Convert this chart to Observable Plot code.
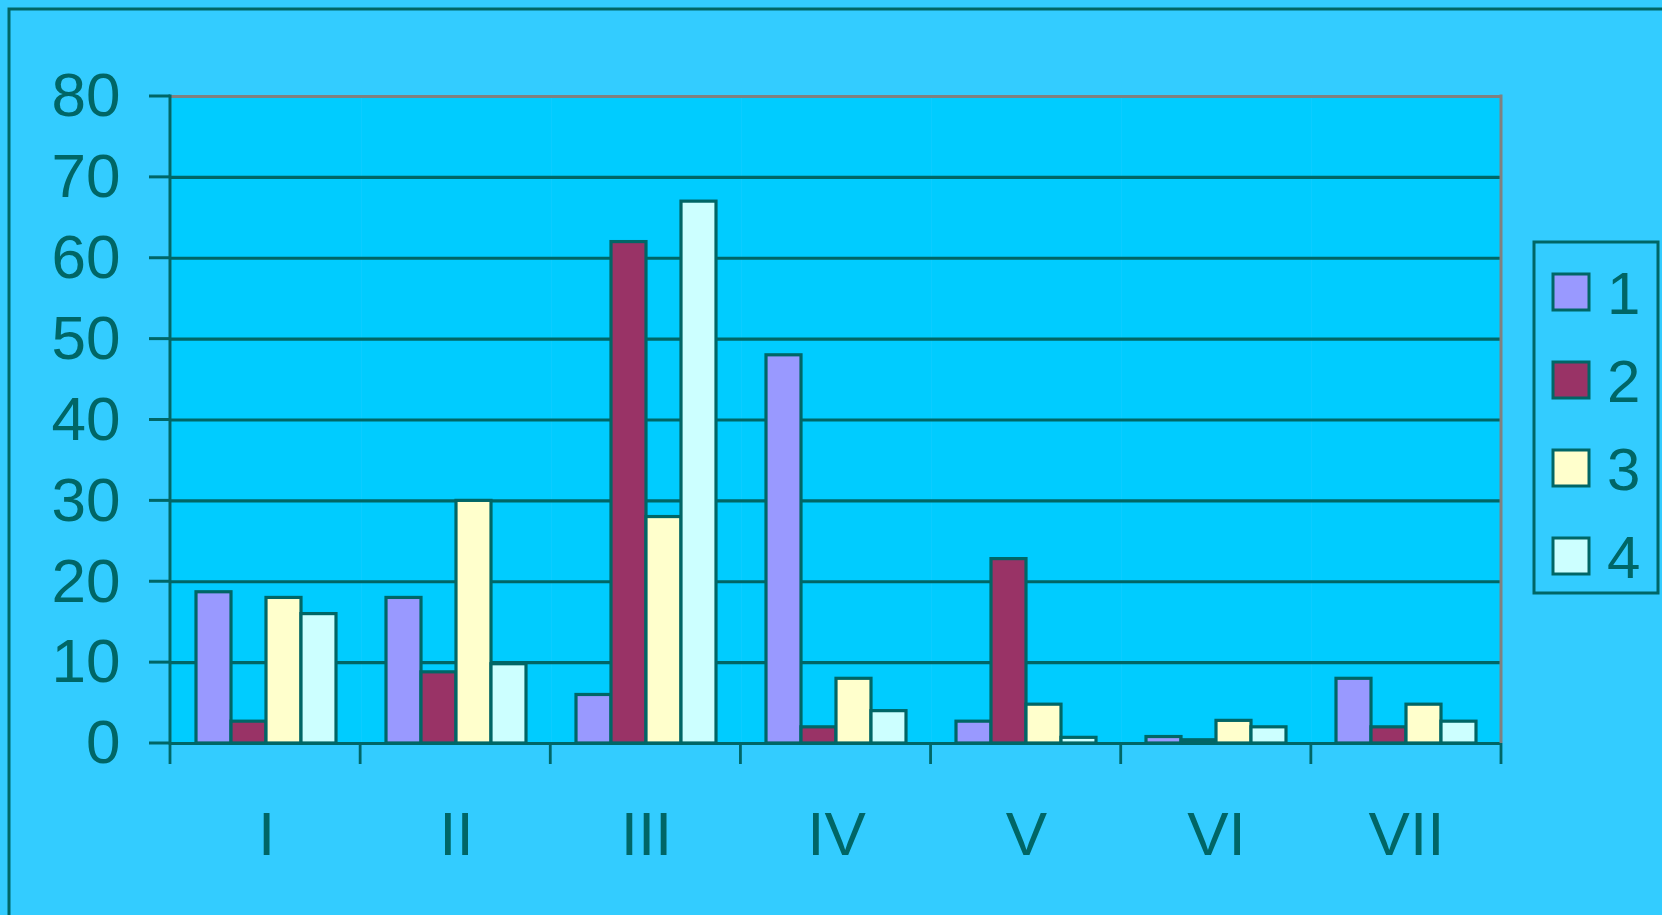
<!DOCTYPE html>
<html>
<head>
<meta charset="utf-8">
<script src="https://cdn.jsdelivr.net/npm/d3@7"></script>
<script src="https://cdn.jsdelivr.net/npm/@observablehq/plot@0.6"></script>
<style>
  html, body { margin: 0; padding: 0; background: #33CCFF; overflow: hidden; }
  #chart { width: 1662px; height: 915px; }
</style>
</head>
<body>
<div id="chart"></div>
<script>
// Categories along the horizontal axis and the four series
const groups = ["I", "II", "III", "IV", "V", "VI", "VII"];
const seriesNames = ["1", "2", "3", "4"];
const series1 = [18.7, 18, 6, 48, 2.7, 0.8, 8];
const series2 = [2.7, 8.8, 62, 2, 22.8, 0.4, 2];
const series3 = [18, 30, 28, 8, 4.8, 2.8, 4.8];
const series4 = [16, 9.8, 67, 4, 0.7, 2, 2.7];
const yTicks = [0, 10, 20, 30, 40, 50, 60, 70, 80];
const seriesColors = ["#9999FF", "#993366", "#FFFFCC", "#CCFFFF"];

const allSeries = [series1, series2, series3, series4];
const data = groups.flatMap((g, i) =>
  seriesNames.map((s, j) => ({group: g, series: s, value: allSeries[j][i]}))
);

const W = 1662, H = 915;
const mL = 170, mR = 161, mT = 96, mB = 172;
const ink = "#006666";
const font = "'Liberation Sans', Arial, sans-serif";

const plot = Plot.plot({
  width: W,
  height: H,
  marginLeft: mL,
  marginRight: mR,
  marginTop: mT,
  marginBottom: mB,
  style: {background: "transparent", color: ink, fontFamily: font, fontSize: "62px", overflow: "visible"},
  fx: {domain: groups, padding: 0, label: null},
  x: {domain: seriesNames, paddingInner: 0, paddingOuter: 0.714, axis: null},
  y: {domain: [0, 80], label: null},
  color: {domain: seriesNames, range: seriesColors},
  marks: [
    Plot.frame({fill: "#00CCFF", stroke: null}),
    Plot.ruleY(yTicks.filter(d => d < 80), {stroke: ink, strokeWidth: 3.2}),
    Plot.ruleY([80], {stroke: "#808080", strokeWidth: 3}),
    Plot.barY(data, {fx: "group", x: "series", y: "value", fill: "series", stroke: ink, strokeWidth: 3.2}),
    Plot.axisY({anchor: "left", ticks: yTicks, tickSize: 21, tickPadding: 30, stroke: "none", fill: ink, fontSize: 62, label: null}),
    Plot.axisFx({anchor: "bottom", tickSize: 0, tickPadding: 67, fill: ink, fontSize: 62, label: null})
  ]
});

document.getElementById("chart").appendChild(plot);

// Frame lines, tick marks and the legend
const svg = d3.select(plot);
const xLeft = mL, xRight = W - mR, yTop = mT, yBase = H - mB;

svg.append("rect")
  .attr("x", 9).attr("y", 9).attr("width", W + 20).attr("height", H + 20)
  .attr("fill", "none").attr("stroke", ink).attr("stroke-width", 3);

svg.append("line")
  .attr("x1", xRight).attr("x2", xRight).attr("y1", yTop - 1.5).attr("y2", yBase)
  .attr("stroke", "#808080").attr("stroke-width", 3);

svg.append("line")
  .attr("x1", xLeft).attr("x2", xLeft).attr("y1", yTop - 1.5).attr("y2", yBase + 1.5)
  .attr("stroke", ink).attr("stroke-width", 3);

// y ticks on the left of the value axis
const yInfo = plot.scale("y");
const yPos = d3.scaleLinear().domain(yInfo.domain).range(yInfo.range);
svg.append("g")
  .selectAll("line")
  .data(yTicks)
  .join("line")
  .attr("x1", xLeft - 21).attr("x2", xLeft)
  .attr("y1", d => yPos(d)).attr("y2", d => yPos(d))
  .attr("stroke", ink)
  .attr("stroke-width", 3);

// separators between categories below the baseline
const fxScale = plot.scale("fx");
const fxRange = fxScale.range;
const step = (fxRange[1] - fxRange[0]) / fxScale.domain.length;
svg.append("g")
  .selectAll("line")
  .data(d3.range(fxScale.domain.length + 1))
  .join("line")
  .attr("x1", i => fxRange[0] + i * step)
  .attr("x2", i => fxRange[0] + i * step)
  .attr("y1", yBase)
  .attr("y2", yBase + 21)
  .attr("stroke", ink)
  .attr("stroke-width", 2.8);

const colorScale = plot.scale("color");
const legend = svg.append("g").attr("transform", "translate(1534,242)");
legend.append("rect")
  .attr("width", 124).attr("height", 351)
  .attr("fill", "#33CCFF").attr("stroke", ink).attr("stroke-width", 3);
const item = legend.selectAll("g.item")
  .data(colorScale.domain)
  .join("g")
  .attr("class", "item")
  .attr("transform", (d, i) => `translate(0,${50 + i * 88})`);
item.append("rect")
  .attr("x", 19).attr("y", -18).attr("width", 36).attr("height", 36)
  .attr("fill", (d, i) => colorScale.range[i])
  .attr("stroke", ink).attr("stroke-width", 3);
item.append("text")
  .attr("x", 73).attr("y", 0).attr("dy", "0.36em")
  .attr("text-anchor", "start")
  .attr("fill", ink)
  .attr("font-family", font)
  .attr("font-size", 60)
  .text(d => d);
</script>
</body>
</html>
